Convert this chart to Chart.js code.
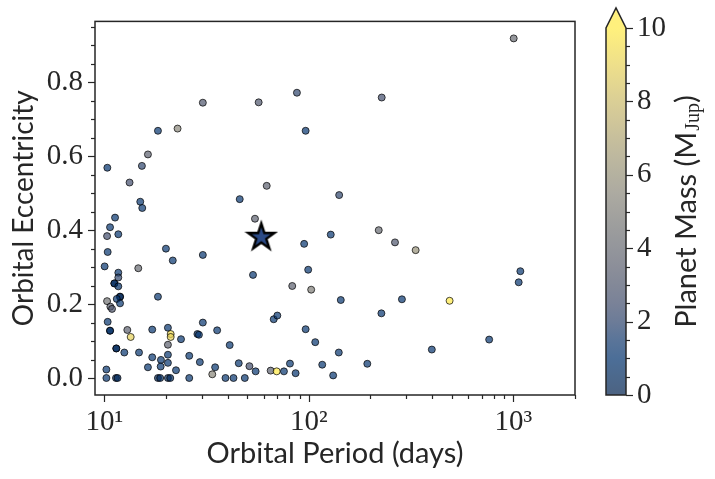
<!DOCTYPE html>
<html>
<head>
<meta charset="utf-8">
<script src="https://cdn.jsdelivr.net/npm/chart.js@4.4.0/dist/chart.umd.min.js"></script>
<style>
body { margin: 0; background: #fff; }
#wrap { position: relative; width: 715px; height: 479px; }
#main { position: absolute; left: 0; top: 0; }
#cbar { position: absolute; left: 590px; top: 0; }
</style>
</head>
<body>
<div id="wrap">
	<canvas id="main" width="590" height="479"></canvas>
	<canvas id="cbar" width="125" height="479"></canvas>
</div>
<script>
// planets: orbital period (days), eccentricity, mass (M_Jup)
var periods = [
	10.34, 13.28, 14.98, 15.26, 16.33, 18.28, 22.8, 30.3, 45.9, 56.8,
	62.2, 87.4, 96.4, 140.6, 1003, 227, 127.9, 219.5, 263.6, 332.6,
	1081, 1061, 143.2, 285, 487.5, 226.2, 140, 193, 131.4, 399,
	761, 15.32, 11.28, 10.66, 10.31, 11.7, 54.5, 94.8, 20.0, 10.38,
	30.3, 21.6, 10.03, 14.65, 11.7, 11.7, 99.2, 53.3, 11.19, 11.19,
	11.7, 82.9, 102.6, 11.93, 11.93, 10.31, 11.5, 11.93, 10.7, 10.9,
	18.28, 67.3, 70.1, 30.3, 10.38, 10.66, 10.66, 12.95, 13.45, 17.14,
	20.45, 21.1, 21.1, 23.7, 28.5, 29.0, 35.6, 20.45, 41.0, 11.44,
	11.44, 12.52, 14.77, 17.14, 20.45, 18.91, 26.0, 20.45, 16.33, 18.85,
	22.4, 10.23, 10.23, 11.4, 11.6, 18.28, 18.75, 20.45, 21.0, 26.0,
	29.3, 34.8, 33.7, 39.1, 42.8, 48.6, 45.4, 51.2, 54.9, 65.0,
	69.6, 75.5, 80.8, 86.1, 96.4, 107.4, 116.2
];
var eccentricities = [
	0.569, 0.529, 0.477, 0.574, 0.605, 0.669, 0.675, 0.745, 0.484, 0.746,
	0.520, 0.772, 0.669, 0.495, 0.919, 0.759, 0.388, 0.400, 0.367, 0.346,
	0.289, 0.259, 0.211, 0.213, 0.209, 0.175, 0.069, 0.0385, 0.007, 0.077,
	0.104, 0.460, 0.434, 0.408, 0.384, 0.389, 0.431, 0.363, 0.350, 0.341,
	0.333, 0.318, 0.302, 0.297, 0.285, 0.272, 0.293, 0.279, 0.256, 0.256,
	0.248, 0.249, 0.239, 0.220, 0.220, 0.208, 0.214, 0.202, 0.193, 0.187,
	0.220, 0.159, 0.169, 0.150, 0.152, 0.128, 0.128, 0.130, 0.111, 0.131,
	0.136, 0.119, 0.111, 0.105, 0.119, 0.117, 0.129, 0.090, 0.089, 0.080,
	0.080, 0.069, 0.069, 0.056, 0.063, 0.049, 0.060, 0.041, 0.029, 0.031,
	0.021, 0.023, 0, 0, 0, 0, 0, 0, 0, 0,
	0.043, 0.029, 0.010, 0, 0, 0, 0.040, 0.032, 0.018, 0.020,
	0.018, 0.018, 0.039, 0.013, 0.132, 0.097, 0.036
];
var masses = [
	1, 2.5, 1.2, 2, 3.5, 1.2, 5.5, 3, 1.2, 3,
	3.5, 2, 1.2, 2, 4, 2.5, 1.2, 4, 3, 6,
	1.2, 1.2, 1.2, 1.2, 10, 1.2, 1.2, 1.2, 1.2, 1.2,
	1.2, 1.2, 1.2, 1.2, 2.5, 1.2, 3.5, 1.2, 1.2, 1.2,
	1.2, 1.2, 1.2, 4, 1.2, 2, 1.2, 1.2, 0.5, 0.5,
	0.8, 3.5, 5, 0.3, 0.3, 4.5, 1.2, 1.2, 3.5, 3,
	1.2, 1.2, 1.2, 1.2, 1.2, 0.8, 0.8, 3.5, 9, 1.2,
	1.2, 9.5, 9, 1.2, 1, 1.2, 1.2, 3.5, 1.2, 0.5,
	0.5, 1.2, 1.2, 1.2, 1.2, 1.2, 1.2, 1.2, 1.2, 1.2,
	1.2, 1.2, 1.2, 0.5, 0.5, 0.5, 0.5, 0.5, 0.5, 1.2,
	1.2, 1.2, 5.5, 1.2, 1.2, 1.2, 1.2, 2.5, 1.2, 3.5,
	10, 1.2, 1.2, 1.2, 1.2, 1.2, 1.2
];
// the highlighted planet
var targetPeriod = [58.5];
var targetEcc = [0.385];

var xTicks = [10, 20, 30, 40, 50, 60, 70, 80, 90, 100, 200, 300, 400, 500, 600, 700, 800, 900, 1000, 2000];
var xMajor = [10, 100, 1000];
var yTicks = [0, 0.05, 0.1, 0.15, 0.2, 0.25, 0.3, 0.35, 0.4, 0.45, 0.5, 0.55, 0.6, 0.65, 0.7, 0.75, 0.8, 0.85, 0.9, 0.95];
var yMajor = [0, 0.2, 0.4, 0.6, 0.8];
var cbTicks = [0, 0.5, 1, 1.5, 2, 2.5, 3, 3.5, 4, 4.5, 5, 5.5, 6, 6.5, 7, 7.5, 8, 8.5, 9, 9.5, 10];
var cbMajor = [0, 2, 4, 6, 8, 10];
var massMax = 10;

var sup = { 1: '\u00b9', 2: '\u00b2', 3: '\u00b3' };
var tickFont = { family: "'Liberation Serif', serif", size: 29 };
var titleFont = { family: "Lato, 'Open Sans', sans-serif", size: 29 };
var ink = '#262626';
var ALPHA = 0.7;

// cividis
var cividis = [
	[0, 32, 77], [0, 51, 111], [57, 72, 107], [87, 92, 109], [112, 113, 115],
	[138, 135, 121], [166, 157, 117], [196, 181, 108], [228, 207, 91], [255, 234, 70]
];
function cmap(t) {
	t = Math.max(0, Math.min(1, t));
	var p = t * (cividis.length - 1);
	var i = Math.min(Math.floor(p), cividis.length - 2);
	var f = p - i;
	var a = cividis[i], b = cividis[i + 1];
	return [0, 1, 2].map(function (k) { return Math.round(a[k] + (b[k] - a[k]) * f); });
}
function rgba(c, al) { return 'rgba(' + c[0] + ',' + c[1] + ',' + c[2] + ',' + al + ')'; }

var points = periods.map(function (p, i) { return { x: p, y: eccentricities[i] }; });
var colors = masses.map(function (m) { return rgba(cmap(m / massMax), ALPHA); });

// filled five point star marker
function makeStar(R) {
	var c = document.createElement('canvas');
	var s = Math.ceil(R * 2 + 6);
	c.width = s; c.height = s;
	var g = c.getContext('2d');
	var r = R * 0.382;
	g.beginPath();
	for (var k = 0; k < 10; k++) {
		var ang = -Math.PI / 2 + k * Math.PI / 5;
		var rr = k % 2 === 0 ? R : r;
		var px = s / 2 + rr * Math.cos(ang), py = s / 2 + 1.5 + rr * Math.sin(ang);
		if (k === 0) g.moveTo(px, py); else g.lineTo(px, py);
	}
	g.closePath();
	g.fillStyle = '#2b4a86';
	g.fill();
	g.lineWidth = 2.4;
	g.lineJoin = 'miter';
	g.strokeStyle = '#000';
	g.stroke();
	return c;
}
var starImg = makeStar(13.8);

function line(ctx, x1, y1, x2, y2) {
	ctx.beginPath(); ctx.moveTo(x1, y1); ctx.lineTo(x2, y2); ctx.stroke();
}

var frameTicks = {
	id: 'frameTicks',
	afterDraw: function (chart) {
		var ctx = chart.ctx, a = chart.chartArea, sx = chart.scales.x, sy = chart.scales.y;
		ctx.save();
		ctx.strokeStyle = ink;
		ctx.lineWidth = 1.2;
		xTicks.forEach(function (v) {
			var px = Math.round(sx.getPixelForValue(v)) + 0.5;
			line(ctx, px, a.bottom, px, a.bottom + (xMajor.indexOf(v) >= 0 ? 7 : 4));
		});
		yTicks.forEach(function (v) {
			var py = Math.round(sy.getPixelForValue(v)) + 0.5;
			line(ctx, a.left, py, a.left - (yMajor.indexOf(v) >= 0 ? 7 : 4), py);
		});
		ctx.lineWidth = 1.5;
		ctx.strokeRect(a.left, a.top, a.right - a.left, a.bottom - a.top);
		ctx.restore();
	}
};

new Chart(document.getElementById('main'), {
	type: 'scatter',
	data: {
		datasets: [{
			label: 'target',
			data: targetPeriod.map(function (p, i) { return { x: p, y: targetEcc[i] }; }),
			pointStyle: starImg,
			pointRadius: 14
		}, {
			label: 'planets',
			data: points,
			backgroundColor: colors,
			borderColor: 'rgba(0,0,0,0.7)',
			borderWidth: 1,
			pointRadius: 3.5
		}]
	},
	options: {
		responsive: false,
		animation: false,
		layout: { padding: { left: 0, top: 9, right: 13, bottom: 0 } },
		plugins: { legend: { display: false }, tooltip: { enabled: false } },
		scales: {
			x: {
				type: 'logarithmic',
				min: 9,
				max: 2000,
				afterBuildTicks: function (scale) {
					scale.ticks = xTicks.map(function (v) { return { value: v, major: xMajor.indexOf(v) >= 0 }; });
				},
				afterFit: function (scale) { scale.height = 84; },
				ticks: {
					autoSkip: false, maxRotation: 0, padding: 2,
					font: tickFont, color: ink,
					callback: function (v) {
						return xMajor.indexOf(v) >= 0 ? '10' + sup[Math.round(Math.log10(v))] : '';
					}
				},
				grid: { drawOnChartArea: false, tickLength: 8, tickColor: 'rgba(0,0,0,0)' },
				border: { display: false },
				title: { display: true, text: 'Orbital Period (days)', font: titleFont, color: ink, padding: { top: 0, bottom: 8 } }
			},
			y: {
				min: -0.046,
				max: 0.965,
				afterBuildTicks: function (scale) {
					scale.ticks = yTicks.map(function (v) { return { value: v }; });
				},
				afterFit: function (scale) { scale.width = 95; },
				ticks: {
					autoSkip: false, padding: 4,
					font: tickFont, color: ink,
					callback: function (v) {
						return yMajor.indexOf(v) >= 0 ? v.toFixed(1) : '';
					}
				},
				grid: { drawOnChartArea: false, tickLength: 8, tickColor: 'rgba(0,0,0,0)' },
				border: { display: false },
				title: { display: true, text: 'Orbital Eccentricity', font: { family: titleFont.family, size: 28 }, color: ink, padding: { top: 7, bottom: 0 } }
			}
		}
	},
	plugins: [frameTicks]
});

// colour bar
var colorBar = {
	id: 'colorBar',
	beforeDatasetsDraw: function (chart) {
		var ctx = chart.ctx, a = chart.chartArea, sy = chart.scales.y;
		var top = sy.getPixelForValue(massMax), bot = sy.getPixelForValue(0);
		var grad = ctx.createLinearGradient(0, bot, 0, top);
		for (var k = 0; k <= 20; k++) {
			grad.addColorStop(k / 20, rgba(cmap(k / 20), ALPHA));
		}
		ctx.save();
		ctx.fillStyle = grad;
		ctx.fillRect(a.left, top, a.right - a.left, bot - top);
		// extend arrow
		var tip = top - 20;
		ctx.beginPath();
		ctx.moveTo(a.left, top); ctx.lineTo((a.left + a.right) / 2, tip); ctx.lineTo(a.right, top); ctx.closePath();
		ctx.fillStyle = rgba(cmap(1), ALPHA);
		ctx.fill();
		ctx.beginPath();
		ctx.moveTo(a.left, bot); ctx.lineTo(a.left, top); ctx.lineTo((a.left + a.right) / 2, tip);
		ctx.lineTo(a.right, top); ctx.lineTo(a.right, bot); ctx.closePath();
		ctx.strokeStyle = ink; ctx.lineWidth = 1.5;
		ctx.stroke();
		ctx.lineWidth = 1.2;
		cbTicks.forEach(function (v) {
			var py = Math.round(sy.getPixelForValue(v)) + 0.5;
			line(ctx, a.right, py, a.right + (cbMajor.indexOf(v) >= 0 ? 7 : 4), py);
		});
		// label with subscript
		var main1 = 'Planet Mass (M', sub = 'Jup', end = ')';
		var fMain = "29px Lato, 'Open Sans', sans-serif", fSub = "20px 'Liberation Serif', serif";
		ctx.font = fMain; var w1 = ctx.measureText(main1).width, w3 = ctx.measureText(end).width;
		ctx.font = fSub; var w2 = ctx.measureText(sub).width;
		var total = w1 + w2 + w3 + 1;
		ctx.translate(97, (top + bot) / 2);
		ctx.rotate(-Math.PI / 2);
		ctx.fillStyle = ink;
		ctx.textBaseline = 'middle';
		ctx.textAlign = 'left';
		var x0 = -total / 2;
		ctx.font = fMain; ctx.fillText(main1, x0, 0);
		ctx.font = fSub; ctx.fillText(sub, x0 + w1 + 1, 7);
		ctx.font = fMain; ctx.fillText(end, x0 + w1 + w2 + 1, 0);
		ctx.restore();
	}
};

new Chart(document.getElementById('cbar'), {
	type: 'scatter',
	data: { datasets: [{ label: 'mass', data: [] }] },
	options: {
		responsive: false,
		animation: false,
		layout: { padding: { left: 16, top: 28, right: 0, bottom: 84 } },
		plugins: { legend: { display: false }, tooltip: { enabled: false } },
		scales: {
			x: { display: false, min: 0, max: 1 },
			y: {
				position: 'right',
				min: 0,
				max: massMax,
				afterBuildTicks: function (scale) {
					scale.ticks = cbTicks.map(function (v) { return { value: v }; });
				},
				afterFit: function (scale) { scale.width = 89; },
				ticks: {
					autoSkip: false, padding: 3,
					font: tickFont, color: ink,
					callback: function (v) { return cbMajor.indexOf(v) >= 0 ? String(v) : ''; }
				},
				grid: { drawOnChartArea: false, tickLength: 8, tickColor: 'rgba(0,0,0,0)' },
				border: { display: false }
			}
		}
	},
	plugins: [colorBar]
});
</script>
</body>
</html>
